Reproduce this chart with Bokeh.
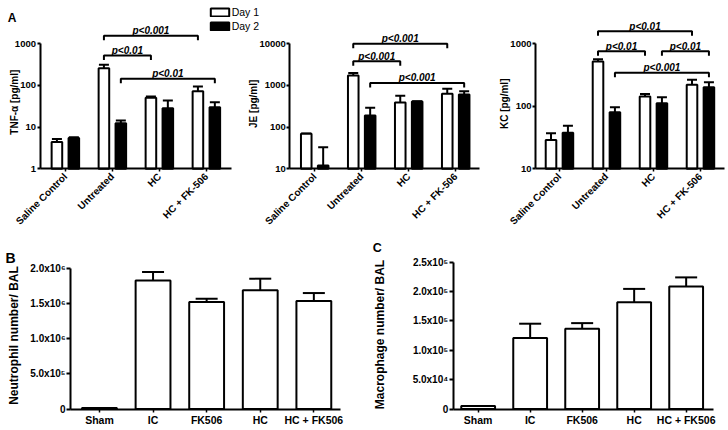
import numpy as np
from math import pi, sqrt
from bokeh.plotting import figure
from bokeh.models import (ColumnDataSource, Range1d, FixedTicker, Whisker, TeeHead,
                          Label, Legend, LegendItem)
from bokeh.layouts import column, row
from bokeh.embed import file_html
from bokeh.resources import INLINE
from bokeh.core.properties import value

FONT = "Liberation Sans"

# ---------------- Panel A data ----------------
GROUPS_A = ["Saline Control", "Untreated", "HC", "HC + FK-506"]
DAYS = ["Day 1", "Day 2"]

TNF_D1 = [4.4, 259, 50.6, 72.7]
TNF_D1_UP = [5.2, 312, 54, 94]
TNF_D2 = [5.5, 12.4, 28.5, 30]
TNF_D2_UP = [5.7, 14.4, 43.5, 39.6]
TNF_TICKS = [1, 10, 100, 1000]

JE_D1 = [69, 1740, 390, 630]
JE_D1_UP = [70, 2000, 570, 830]
JE_D2 = [12, 190, 410, 605]
JE_D2_UP = [33, 290, 420, 725]
JE_TICKS = [10, 100, 1000, 10000]

KC_D1 = [29, 521, 143.5, 221]
KC_D1_UP = [37, 567, 158, 265]
KC_D2 = [37.7, 80.5, 112, 202]
KC_D2_UP = [49, 96.8, 140, 243]
KC_TICKS = [10, 100, 1000]

# (group from, day from, group to, day to, level, label)
TNF_BRACKETS = [("Untreated", 0, "HC + FK-506", 0, 1570, "p<0.001"),
                ("Untreated", 0, "HC", 0, 520, "p<0.01"),
                ("Untreated", 1, "HC + FK-506", 1, 144, "p<0.01")]
JE_BRACKETS = [("Untreated", 0, "HC + FK-506", 0, 10000, "p<0.001"),
               ("Untreated", 0, "HC", 0, 3800, "p<0.001"),
               ("Untreated", 1, "HC + FK-506", 1, 1150, "p<0.001")]
KC_BRACKETS = [("Untreated", 0, "HC + FK-506", 0, 1585, "p<0.01"),
               ("Untreated", 0, "HC", 0, 762, "p<0.01"),
               ("HC", 1, "HC + FK-506", 1, 762, "p<0.01"),
               ("Untreated", 1, "HC + FK-506", 1, 343, "p<0.001")]

# ---------------- Panels B / C data ----------------
GROUPS_BC = ["Sham", "IC", "FK506", "HC", "HC + FK506"]
NEUT = [15000, 1.827e6, 1.52e6, 1.686e6, 1.534e6]
NEUT_UP = [15000, 1.945e6, 1.565e6, 1.851e6, 1.647e6]
NEUT_TICKS = [0, 5e5, 1e6, 1.5e6, 2e6]
NEUT_TICK_LABELS = ["0", "5.0x10\u2075", "1.0x10\u2076", "1.5x10\u2076", "2.0x10\u2076"]

MAC = [5000, 1.208e5, 1.368e5, 1.819e5, 2.085e5]
MAC_UP = [5000, 1.453e5, 1.463e5, 2.046e5, 2.242e5]
MAC_TICKS = [0, 5e4, 1e5, 1.5e5, 2e5, 2.5e5]
MAC_TICK_LABELS = ["0", "5.0x10\u2074", "1.0x10\u2075", "1.5x10\u2075", "2.0x10\u2075", "2.5x10\u2075"]

# ---------------- layout / style constants ----------------
DODGE = [-0.18, 0.18]
BAR_W_A = 0.225
BAR_W_BC = 0.65
PX_UNIT_A = 47.0
TOP_H = 230
BOT_H = 200
A_ZERO_PX = 168.3      # pixel row of the lowest tick in panel A
BC_ZERO_PX = 178.5     # pixel row of 0 in panels B / C (inside their canvas)


def base_style(p, tick_font_size, ytick_out, ystandoff, xtick_out, xstandoff, xfont_size):
    p.outline_line_color = None
    p.xgrid.visible = False
    p.ygrid.visible = False
    for ax in p.axis:
        ax.axis_line_color = "black"
        ax.axis_line_width = 2
        ax.major_tick_line_color = "black"
        ax.major_tick_line_width = 2
        ax.minor_tick_line_color = None
        ax.major_tick_in = 0
        ax.major_label_text_font = FONT
        ax.major_label_text_font_style = "bold"
        ax.major_label_text_color = "black"
    p.yaxis.major_tick_out = ytick_out
    p.yaxis.major_label_standoff = ystandoff
    p.yaxis.major_label_text_font_size = tick_font_size
    p.xaxis.major_tick_out = xtick_out
    p.xaxis.major_tick_line_width = 1.5
    p.xaxis.major_label_standoff = xstandoff
    p.xaxis.major_label_text_font_size = xfont_size


def add_ylabel(p, text, x, y, dx, dy, size):
    p.add_layout(Label(x=x, y=y, x_offset=dx, y_offset=dy, text=text, angle=pi / 2,
                       text_align="center", text_baseline="middle", text_font=FONT,
                       text_font_style="bold", text_font_size=size, text_color="black"))


def add_letter(p, text, x, y, dx, dy, size):
    p.add_layout(Label(x=x, y=y, x_offset=dx, y_offset=dy, text=text,
                       text_align="left", text_baseline="alphabetic", text_font=FONT,
                       text_font_style="bold", text_font_size=size, text_color="black"))


def build_a(d1, d1u, d2, d2u, ticks, ylabel, brackets, px_dec, width, axis_off,
            xa0, xa1, lab_dx, lab_dy, **kw):
    base = ticks[0]
    x_start = xa0 - axis_off / PX_UNIT_A
    x_end = x_start + width / PX_UNIT_A
    y_start = base * 10 ** (-(TOP_H - A_ZERO_PX) / px_dec)
    y_end = base * 10 ** (A_ZERO_PX / px_dec)
    p = figure(width=width, height=TOP_H, x_range=Range1d(x_start, x_end),
               y_range=Range1d(y_start, y_end), y_axis_type="log", output_backend="svg",
               toolbar_location=None, title=None, min_border=0, min_border_left=0,
               min_border_right=0, min_border_top=0, min_border_bottom=0, **kw)
    idx = np.arange(len(GROUPS_A))
    renderers = []
    for k, (vals, ups, fill) in enumerate([(d1, d1u, "white"), (d2, d2u, "black")]):
        src = ColumnDataSource(dict(x=idx + DODGE[k], top=vals, up=ups))
        r = p.vbar(x="x", top="top", bottom=base, width=BAR_W_A, source=src,
                   fill_color=fill, line_color="black", line_width=2)
        renderers.append(r)
        p.add_layout(Whisker(source=src, base="x", lower="top", upper="up", dimension="height",
                             line_color="black", line_width=2, lower_head=None,
                             upper_head=TeeHead(size=10, line_width=2, line_color="black")))
    # significance brackets
    drop = 10 ** (4.5 / px_dec)
    xs, ys, tx, ty, tt = [], [], [], [], []
    for g1, k1, g2, k2, lvl, lab in brackets:
        xa = GROUPS_A.index(g1) + DODGE[k1]
        xb = GROUPS_A.index(g2) + DODGE[k2]
        xs.append([xa, xa, xb, xb])
        ys.append([lvl / drop, lvl, lvl, lvl / drop])
        tx.append((xa + xb) / 2)
        ty.append(lvl)
        tt.append(lab)
    p.multi_line(xs, ys, line_color="black", line_width=2)
    p.text(x=tx, y=ty, text=tt, text_align="center", text_baseline="alphabetic",
           y_offset=-5, text_font=value(FONT), text_font_style="bold italic",
           text_font_size="10px", text_color="black")

    base_style(p, "9.5px", 3, 1, 3, 3, "10px")
    p.yaxis.ticker = FixedTicker(ticks=ticks)
    p.yaxis.major_label_overrides = {t: str(t) for t in ticks}
    p.yaxis.bounds = (ticks[0], ticks[-1])
    p.yaxis.fixed_location = xa0
    p.xaxis.ticker = FixedTicker(ticks=[int(i) for i in idx])
    p.xaxis.major_label_overrides = {int(i): g for i, g in enumerate(GROUPS_A)}
    p.xaxis.major_label_orientation = pi / 4
    p.xaxis.bounds = (xa0, xa1)
    p.xaxis.fixed_location = base
    add_ylabel(p, ylabel, xa0, sqrt(ticks[0] * ticks[-1]), lab_dx, lab_dy, "10px")
    return p, renderers, xa0


pA1, rA1, xA1 = build_a(TNF_D1, TNF_D1_UP, TNF_D2, TNF_D2_UP, TNF_TICKS, "TNF-\u03b1 [pg/ml]",
                        TNF_BRACKETS, 41.67, 262, 39.5, -0.54, 3.54, -26, 4.1)
add_letter(pA1, "A", xA1, TNF_TICKS[-1], -32.2, 26, "12px")
legend = Legend(items=[LegendItem(label=DAYS[0], renderers=[rA1[0]]),
                       LegendItem(label=DAYS[1], renderers=[rA1[1]])],
                location=(207.7, 198.1), orientation="vertical", glyph_width=23, glyph_height=10,
                label_height=10, label_width=10, spacing=2, padding=0, margin=0,
                border_line_color=None, background_fill_alpha=0, label_standoff=1,
                label_text_font=FONT, label_text_font_size="10.5px", label_text_color="black")
pA1.add_layout(legend)

pA2, _, _ = build_a(JE_D1, JE_D1_UP, JE_D2, JE_D2_UP, JE_TICKS, "JE [pg/ml]",
                    JE_BRACKETS, 41.67, 234, 43.3, -0.53, 3.51, -36, 2.5,
                    margin=(0, 0, 0, -16), border_fill_color=None, background_fill_color=None)

pA3, _, _ = build_a(KC_D1, KC_D1_UP, KC_D2, KC_D2_UP, KC_TICKS, "KC [pg/ml]",
                    KC_BRACKETS, 62.5, 248, 55, -0.51, 3.51, -31.3, 2.5)


def build_bc(vals, ups, ticks, tick_labels, ylabel, width, axis_off, px_unit, px_per_val,
             xa0, xa1, lab_dx, lab_dy, letter, let_dx, let_dy, let_size):
    x_start = xa0 - axis_off / px_unit
    x_end = x_start + width / px_unit
    y_start = -(BOT_H - BC_ZERO_PX) / px_per_val
    y_end = BC_ZERO_PX / px_per_val
    p = figure(width=width, height=BOT_H, x_range=Range1d(x_start, x_end),
               y_range=Range1d(y_start, y_end), output_backend="svg", toolbar_location=None,
               title=None, min_border=0, min_border_left=0, min_border_right=0,
               min_border_top=0, min_border_bottom=0)
    idx = np.arange(len(GROUPS_BC))
    src = ColumnDataSource(dict(x=idx, top=vals, up=ups))
    p.vbar(x="x", top="top", bottom=0, width=BAR_W_BC, source=src,
           fill_color="white", line_color="black", line_width=2)
    keep = [i for i in range(len(vals)) if ups[i] > vals[i]]
    wsrc = ColumnDataSource(dict(x=[int(i) for i in keep], top=[vals[i] for i in keep],
                                 up=[ups[i] for i in keep]))
    p.add_layout(Whisker(source=wsrc, base="x", lower="top", upper="up", dimension="height",
                         line_color="black", line_width=2, lower_head=None,
                         upper_head=TeeHead(size=22, line_width=2, line_color="black")))
    base_style(p, "10px", 4, 1, 3, 2, "10.5px")
    p.yaxis.ticker = FixedTicker(ticks=ticks)
    p.yaxis.major_label_overrides = {t: l for t, l in zip(ticks, tick_labels)}
    p.yaxis.bounds = (ticks[0], ticks[-1])
    p.yaxis.fixed_location = xa0
    p.xaxis.ticker = FixedTicker(ticks=[int(i) for i in idx])
    p.xaxis.major_label_overrides = {int(i): g for i, g in enumerate(GROUPS_BC)}
    p.xaxis.bounds = (xa0, xa1)
    p.xaxis.fixed_location = 0
    add_ylabel(p, ylabel, xa0, (ticks[0] + ticks[-1]) / 2, lab_dx, lab_dy, "12px")
    add_letter(p, letter, xa0, ticks[-1], let_dx, let_dy, let_size)
    return p


pB = build_bc(NEUT, NEUT_UP, NEUT_TICKS, NEUT_TICK_LABELS, "Neutrophil number/ BAL",
              365, 70, 53.6, 70.4 / 1e6, -0.54, 4.5, -57, 3.1, "B", -65, 10, "14px")
pC = build_bc(MAC, MAC_UP, MAC_TICKS, MAC_TICK_LABELS, "Macrophage number/ BAL",
              363, 87.7, 52.0, 58.7 / 1e5, -0.48, 4.53, -73, 1.1, "C", -80.4, 14, "12.5px")

layout = column(row(pA1, pA2, pA3), row(pB, pC))
open("out.html", "w").write(file_html(layout, INLINE))
